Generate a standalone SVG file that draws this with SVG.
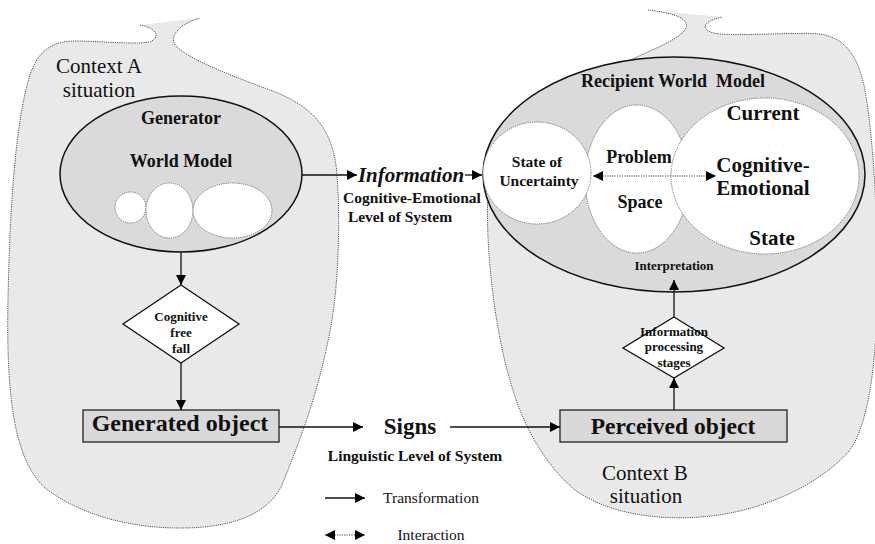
<svg xmlns="http://www.w3.org/2000/svg" width="875" height="544" viewBox="0 0 875 544">
  <defs>
    <style>
      .ctx { fill: #e9e9e9; stroke: #555; stroke-width: 1; stroke-dasharray: 1.2 1; }
      .model { fill: #dadada; stroke: #111; stroke-width: 1.5; }
      .sub { fill: #ffffff; stroke: #777; stroke-width: 1; stroke-dasharray: 1.2 1; }
      .box { fill: #d9d9d9; stroke: #222; stroke-width: 1.3; }
      .dia { fill: #ffffff; stroke: #111; stroke-width: 1.3; }
      .link { fill: none; stroke: #111; stroke-width: 1.3; }
      .dotlink { fill: none; stroke: #444; stroke-width: 1; stroke-dasharray: 1.2 1.2; }
      text { font-family: "Liberation Serif", "Times New Roman", serif; fill: #111; text-anchor: middle; }
      .b { font-weight: bold; }
      .pre { white-space: pre; }
    </style>
    <marker id="arrow" viewBox="0 0 10 10" refX="10" refY="5" markerWidth="11" markerHeight="10" markerUnits="userSpaceOnUse" orient="auto-start-reverse">
      <path d="M0,0 L10,5 L0,10 Z" fill="#000"/>
    </marker>
  </defs>

  <!-- Context A: situation of the generator -->
  <g id="context-a">
    <path class="ctx" d="M140,25 C152,27 162,34 152,41 C145,45 110,42 80,41 C50,40 38,52 30,75 C16,120 10,200 8,300 C6,400 15,460 45,488 C80,515 130,528 180,528 C240,528 270,510 282,485 C300,440 320,390 332,320 C340,270 340,200 336,165 C330,125 310,105 270,90 C230,75 190,60 176,46 C168,36 180,24 200,18"/>
    <text x="99" y="73" font-size="21">Context A</text>
    <text x="99" y="97" font-size="21">situation</text>
  </g>

  <!-- Context B: situation of the recipient -->
  <g id="context-b">
    <path class="ctx" d="M648,10 C665,12 690,16 686,28 C680,40 650,50 620,65 C560,95 500,130 488,190 C485,250 495,330 510,380 C522,425 545,465 575,490 C610,515 660,520 700,517 C760,513 820,485 850,450 C870,420 876,360 877,300 C878,230 875,150 865,90 C858,55 845,38 820,34 C790,32 750,36 720,34 C700,32 700,22 722,17"/>
    <text x="645" y="480" font-size="21">Context B</text>
    <text x="646" y="503" font-size="21">situation</text>
  </g>

  <!-- Generator world model -->
  <g id="generator-model">
    <ellipse class="model" cx="181" cy="174" rx="121" ry="78"/>
    <ellipse class="sub" cx="130.5" cy="207.5" rx="15.5" ry="15.5"/>
    <ellipse class="sub" cx="169.5" cy="210.5" rx="23.5" ry="27.5"/>
    <ellipse class="sub" cx="232.5" cy="210.5" rx="39.5" ry="27.5"/>
    <text class="b" x="181" y="124" font-size="18">Generator</text>
    <text class="b" x="181" y="167" font-size="18">World Model</text>
  </g>

  <!-- Recipient world model -->
  <g id="recipient-model">
    <ellipse class="model" cx="674" cy="174.5" rx="191" ry="117.5"/>
    <text class="b pre" x="673" y="87" font-size="18">Recipient World  Model</text>
  </g>

  <g id="problem-space">
    <ellipse class="sub" cx="637" cy="179" rx="52" ry="74"/>
    <text class="b" x="639" y="163" font-size="18">Problem</text>
    <text class="b" x="640" y="208" font-size="18">Space</text>
  </g>

  <g id="current-state">
    <ellipse class="sub" cx="765" cy="176" rx="94" ry="78"/>
    <text class="b" x="763" y="120" font-size="21">Current</text>
    <text class="b" x="763" y="172" font-size="21">Cognitive-</text>
    <text class="b" x="763" y="195" font-size="21">Emotional</text>
    <text class="b" x="772" y="245" font-size="21">State</text>
  </g>

  <g id="uncertainty">
    <ellipse class="sub" cx="537" cy="173" rx="54" ry="51"/>
    <text class="b" x="537" y="167" font-size="15.5">State of</text>
    <text class="b" x="539" y="186" font-size="15.5">Uncertainty</text>
  </g>

  <g id="interpretation">
    <text class="b" x="674" y="270" font-size="13">Interpretation</text>
  </g>

  <!-- Decision-style stages -->
  <g id="free-fall">
    <polygon class="dia" points="181,285 239,324 181,363 123,324"/>
    <text class="b" x="181" y="321" font-size="13">Cognitive</text>
    <text class="b" x="181" y="337" font-size="13">free</text>
    <text class="b" x="181" y="353" font-size="13">fall</text>
  </g>

  <g id="processing-stages">
    <polygon class="dia" points="674,317 724,348 674,378 623,348"/>
    <text class="b" x="674" y="336" font-size="13">Information</text>
    <text class="b" x="674" y="351" font-size="13">processing</text>
    <text class="b" x="674" y="367" font-size="13">stages</text>
  </g>

  <!-- Objects -->
  <g id="generated-object">
    <rect class="box" x="83" y="410" width="196" height="32"/>
    <text class="b" x="180" y="431" font-size="24">Generated object</text>
  </g>

  <g id="perceived-object">
    <rect class="box" x="560" y="410" width="227" height="32"/>
    <text class="b" x="673" y="434" font-size="23.5">Perceived object</text>
  </g>

  <!-- Level labels -->
  <g id="information">
    <text class="b" x="411" y="182" font-size="21" font-style="italic">Information</text>
    <text class="b" x="412" y="203" font-size="15.5">Cognitive-Emotional</text>
    <text class="b" x="400" y="222" font-size="15.5">Level of System</text>
  </g>

  <g id="signs">
    <text class="b" x="410" y="434" font-size="23">Signs</text>
    <text class="b" x="415" y="461" font-size="15.5">Linguistic Level of System</text>
  </g>

  <!-- Connectors -->
  <g id="connectors">
    <line class="link" x1="181" y1="252" x2="181" y2="285" marker-end="url(#arrow)"/>
    <line class="link" x1="181" y1="363" x2="181" y2="410" marker-end="url(#arrow)"/>
    <line class="link" x1="302" y1="175" x2="357" y2="175" marker-end="url(#arrow)"/>
    <line class="link" x1="465" y1="175" x2="482" y2="175" marker-end="url(#arrow)"/>
    <line class="link" x1="279" y1="427" x2="363" y2="427" marker-end="url(#arrow)"/>
    <line class="link" x1="450" y1="427" x2="560" y2="427" marker-end="url(#arrow)"/>
    <line class="link" x1="674" y1="410" x2="674" y2="378" marker-end="url(#arrow)"/>
    <line class="link" x1="674" y1="317" x2="674" y2="280" marker-end="url(#arrow)"/>
    <line class="dotlink" x1="593" y1="176" x2="716" y2="176" marker-start="url(#arrow)" marker-end="url(#arrow)"/>
  </g>

  <!-- Legend -->
  <g id="legend">
    <line class="link" x1="325" y1="498" x2="365" y2="498" marker-end="url(#arrow)"/>
    <text x="431" y="503" font-size="15.5">Transformation</text>
    <line class="dotlink" x1="325" y1="535" x2="365" y2="535" marker-start="url(#arrow)" marker-end="url(#arrow)"/>
    <text x="431" y="540" font-size="15.5">Interaction</text>
  </g>
</svg>
